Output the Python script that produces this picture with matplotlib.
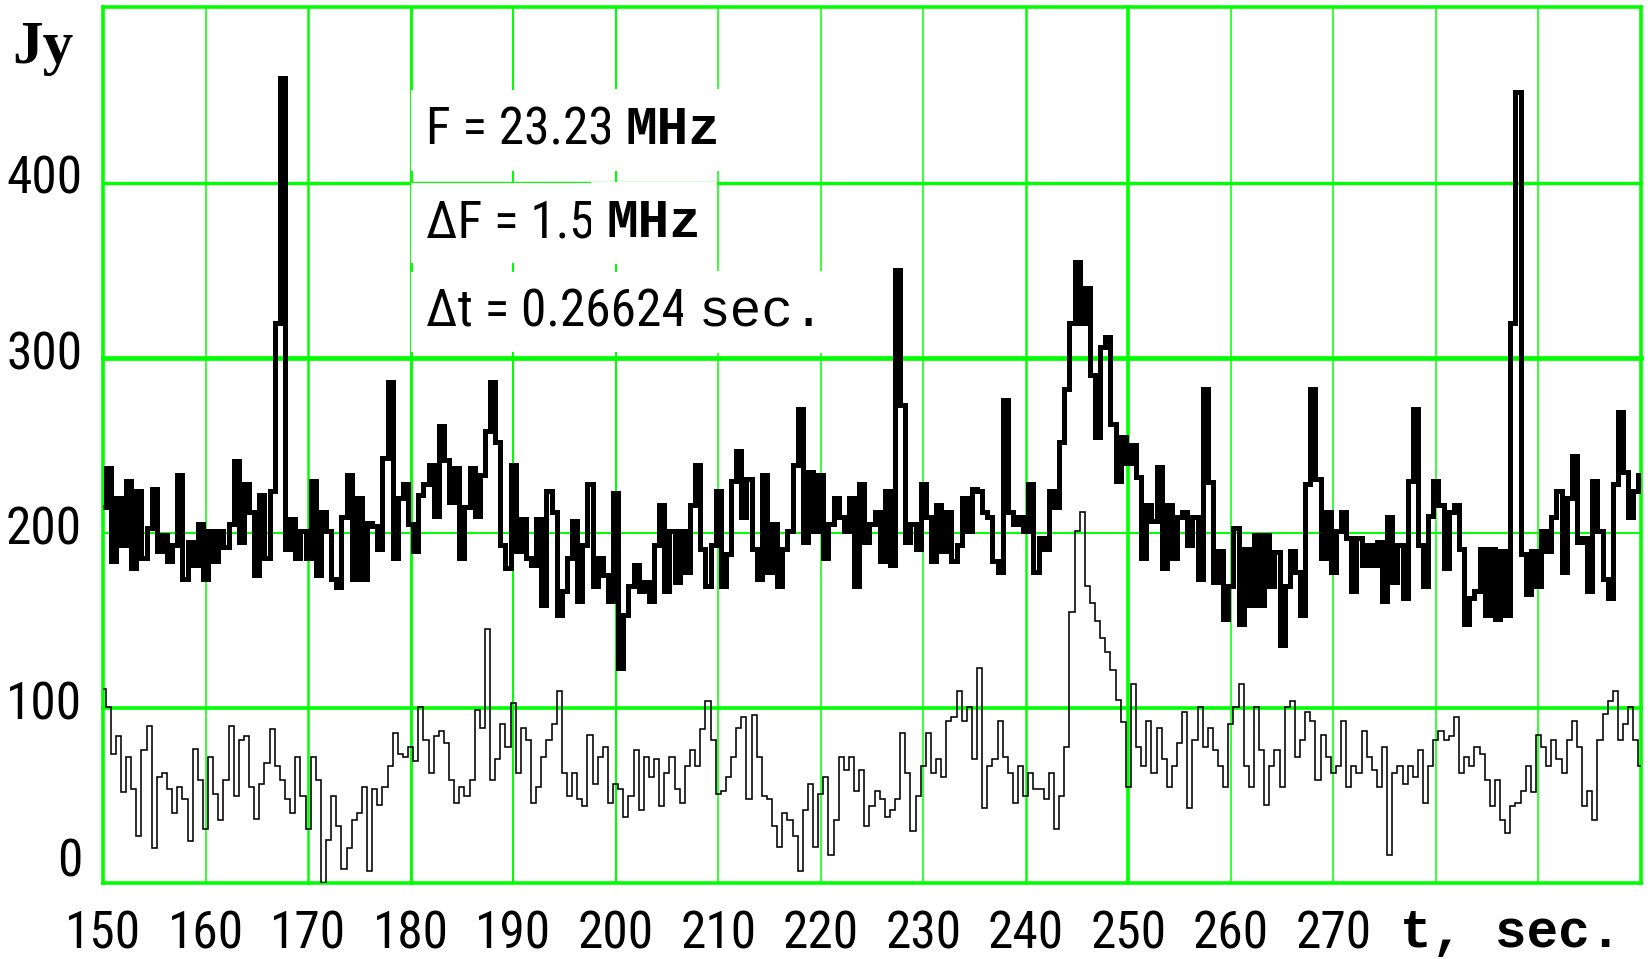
import numpy as np
import matplotlib
matplotlib.use("Agg")
import matplotlib.pyplot as plt
from matplotlib import font_manager as fm

# Flux density of the two channels, sampled every 0.5 s from t = 150 s
T_START = 150.0
T_STEP = 0.5

upper_jy = [
    215, 237, 184, 220, 193, 230, 180, 224, 186, 203,   # 150
    225, 190, 199, 184, 193, 233, 174, 195, 182, 205,   # 155
    174, 201, 184, 201, 192, 205, 241, 195, 228, 212,   # 160
    176, 222, 186, 224, 320, 460, 191, 208, 186, 201,   # 165
    186, 230, 176, 212, 201, 174, 169, 209, 233, 174,   # 170
    220, 174, 206, 204, 191, 243, 286, 186, 220, 228,   # 175
    205, 190, 222, 228, 239, 210, 261, 242, 218, 237,   # 180
    186, 215, 237, 210, 233, 258, 286, 252, 193, 180,   # 185
    239, 190, 208, 186, 182, 208, 159, 224, 212, 153,   # 190
    167, 186, 207, 161, 193, 228, 170, 186, 176, 161,   # 195
    223, 123, 153, 170, 182, 167, 172, 161, 193, 216,   # 200
    167, 201, 172, 201, 178, 216, 239, 191, 170, 193,   # 205
    224, 170, 188, 230, 247, 209, 231, 191, 174, 233,   # 210
    178, 205, 170, 191, 201, 239, 271, 195, 235, 201,   # 215
    233, 186, 205, 220, 209, 201, 220, 170, 228, 195,   # 220
    205, 212, 184, 224, 182, 350, 273, 195, 205, 191,   # 225
    228, 209, 184, 216, 190, 212, 184, 193, 220, 201,   # 230
    225, 224, 212, 209, 184, 178, 276, 212, 205, 209,   # 235
    201, 228, 178, 197, 191, 224, 215, 252, 282, 320,   # 240
    355, 320, 340, 290, 255, 306, 312, 262, 230, 255,   # 245
    240, 250, 232, 186, 216, 207, 238, 180, 216, 186,   # 250
    209, 212, 193, 209, 174, 282, 229, 172, 190, 151,   # 255
    170, 203, 148, 191, 159, 199, 159, 199, 170, 189,   # 260
    136, 170, 190, 178, 153, 228, 282, 231, 186, 212,   # 265
    178, 201, 212, 197, 167, 197, 182, 193, 182, 195,   # 270
    161, 209, 172, 193, 163, 230, 271, 193, 170, 210,   # 275
    230, 216, 180, 212, 216, 191, 148, 163, 167, 191,   # 280
    153, 191, 151, 190, 153, 320, 452, 188, 165, 190,   # 285
    170, 201, 190, 209, 224, 178, 220, 244, 195, 197,   # 290
    167, 230, 201, 174, 163, 228, 269, 235, 209, 224,   # 295
    233,
]

lower_jy = [
    111, 101, 74, 84, 52, 72, 54, 27, 76, 90,           # 150
    20, 61, 63, 54, 40, 55, 48, 24, 77, 59,             # 155
    31, 72, 51, 36, 59, 90, 50, 82, 84, 55,             # 160
    37, 57, 69, 88, 67, 59, 48, 40, 72, 50,             # 165
    31, 72, 59, 0, 25, 50, 33, 8, 20, 36,               # 170
    40, 55, 7, 54, 45, 55, 67, 86, 74, 72,              # 175
    78, 70, 101, 82, 63, 84, 87, 80, 59, 46,            # 180
    55, 50, 59, 99, 89, 145, 59, 71, 91, 78,            # 185
    103, 63, 89, 82, 46, 55, 72, 82, 91, 110,           # 190
    63, 50, 63, 48, 44, 85, 57, 72, 78, 46,             # 195
    57, 54, 38, 50, 76, 42, 72, 61, 71, 44,             # 200
    63, 72, 54, 46, 67, 76, 67, 88, 104, 82,            # 205
    51, 53, 61, 72, 89, 95, 48, 96, 72, 50,             # 210
    48, 33, 21, 40, 36, 27, 7, 42, 57, 21,              # 215
    51, 61, 16, 36, 72, 65, 72, 53, 65, 33,             # 220
    44, 53, 48, 38, 42, 48, 86, 63, 30, 50,             # 225
    67, 86, 63, 71, 61, 93, 95, 110, 93, 101,           # 230
    71, 123, 43, 67, 71, 93, 72, 63, 46, 67,            # 235
    50, 63, 54, 54, 48, 63, 31, 50, 78, 155,            # 240
    201, 212, 170, 160, 150, 140, 132, 122, 105, 92,    # 245
    55, 114, 78, 67, 93, 63, 89, 71, 55, 67,            # 250
    80, 98, 43, 82, 101, 78, 89, 76, 67, 55,            # 255
    91, 101, 114, 67, 55, 101, 76, 45, 67, 76,          # 260
    55, 101, 104, 72, 82, 98, 93, 59, 85, 72,           # 265
    63, 67, 93, 55, 67, 63, 87, 72, 65, 55,             # 270
    78, 16, 63, 67, 57, 67, 61, 76, 46, 67,             # 275
    82, 87, 82, 84, 95, 63, 72, 67, 78, 74,             # 280
    59, 44, 59, 36, 29, 44, 46, 53, 67, 52,             # 285
    85, 78, 67, 82, 71, 63, 82, 93, 78, 44,             # 290
    53, 36, 82, 97, 104, 110, 82, 91, 101, 82,          # 295
    67,
]

x_tick_labels = [150, 160, 170, 180, 190, 200, 210, 220, 230, 240, 250, 260, 270]
x_grid = [150, 160, 170, 180, 190, 200, 210, 220, 230, 240, 250, 260, 270, 280, 290, 300]
y_tick_labels = [0, 100, 200, 300, 400]
y_grid = [0, 100, 200, 300, 400, 500]

info_lines = [("F = 23.23 ", "MHz"),
              ("\u0394F = 1.5 ", "MHz"),
              ("\u0394t = 0.26624 ", "sec.")]

# grid line widths (points) – the mesh is drawn with uneven strokes
x_grid_lw = {150: 2.6, 160: 1.1, 170: 1.8, 180: 2.1, 190: 1.5, 200: 1.5,
             210: 1.1, 220: 1.1, 230: 1.1, 240: 1.8, 250: 2.6, 260: 1.1,
             270: 1.1, 280: 1.1, 290: 1.1, 300: 2.6}
y_grid_lw = {0: 2.6, 100: 2.6, 200: 1.4, 300: 3.4, 400: 2.4, 500: 2.6}

GREEN = "#00ff00"


def narrow_font():
    """Return (FontProperties, size) for a narrow sans face, if one exists."""
    names = {f.name for f in fm.fontManager.ttflist}
    for fam in ("Liberation Sans Narrow", "Arial Narrow", "Roboto Condensed",
                "Noto Sans Condensed", "Open Sans Condensed",
                "DejaVu Sans Condensed"):
        if fam in names:
            return fm.FontProperties(family=fam), 37
    for f in fm.fontManager.ttflist:
        if (f.name in ("DejaVu Sans", "Noto Sans", "Open Sans", "Roboto")
                and f.stretch in ("condensed", "semi-condensed")
                and f.style == "normal" and f.weight in (400, "normal")):
            return fm.FontProperties(fname=f.fname), 34
    return fm.FontProperties(family=["Liberation Sans", "DejaVu Sans"]), 33


NARROW_FP, NARROW_SIZE = narrow_font()
MONO = ["Liberation Mono", "DejaVu Sans Mono"]
SERIF = ["Liberation Serif", "DejaVu Serif"]

fig = plt.figure(figsize=(16.49, 9.59), dpi=100)
fig.patch.set_facecolor("white")
ax = fig.add_axes([0.06246, 0.07873, 0.93269, 0.91345])
ax.set_xlim(150, 300)
ax.set_ylim(0, 500)
ax.set_axis_off()

for xv in x_grid:
    ax.axvline(xv, color=GREEN, lw=x_grid_lw[xv], zorder=1, clip_on=False)
for yv in y_grid:
    ax.axhline(yv, color=GREEN, lw=y_grid_lw[yv], zorder=1, clip_on=False)

t_upper = T_START + T_STEP * np.arange(len(upper_jy))
t_lower = T_START + T_STEP * np.arange(len(lower_jy))

ax.plot(t_upper, upper_jy, color="black", lw=3.6, drawstyle="steps-mid",
        solid_joinstyle="miter", solid_capstyle="butt", zorder=4)
ax.plot(t_lower, lower_jy, color="black", lw=1.15, drawstyle="steps-mid",
        solid_joinstyle="miter", solid_capstyle="butt", zorder=4)


def narrow(size=None):
    fp = NARROW_FP.copy()
    fp.set_size(size if size is not None else NARROW_SIZE)
    return fp


# x tick labels
for xv in x_tick_labels:
    ax.annotate(str(xv), xy=(xv, 0), xycoords="data", xytext=(0, -47),
                textcoords="offset points", ha="center", va="baseline",
                fontproperties=narrow(), annotation_clip=False)

# y tick labels (the zero label sits a little above its line)
for yv in y_tick_labels:
    dy = 15 if yv == 0 else 2
    ax.annotate(str(yv), xy=(150, yv), xycoords="data", xytext=(-15, dy),
                textcoords="offset points", ha="right", va="center",
                fontproperties=narrow(), annotation_clip=False)

# unit labels
fig.text(12 / 1649, 1 - 63 / 959, "Jy", fontsize=44, family=SERIF,
         fontweight="bold", ha="left", va="baseline")
fig.text(1400 / 1649, 1 - 947 / 959, "t, sec.", fontsize=38, family=MONO,
         fontweight="bold", ha="left", va="baseline")

# observation parameters
box = dict(boxstyle="square,pad=0.3", fc="white", ec="none")
for (left, right), yb in zip(info_lines, [0.844, 0.738, 0.6364]):
    t1 = ax.text(0.21, yb, left, transform=ax.transAxes, ha="left",
                 va="baseline", fontproperties=narrow(), bbox=box, zorder=3)
    weight = "bold" if right == "MHz" else "normal"
    ax.annotate(right, xy=(1, yb), xycoords=(t1, ax.transAxes),
                ha="left", va="baseline", fontsize=38, family=MONO,
                fontweight=weight, bbox=box, zorder=3)

fig.savefig("out.png", dpi=100, facecolor="white")
